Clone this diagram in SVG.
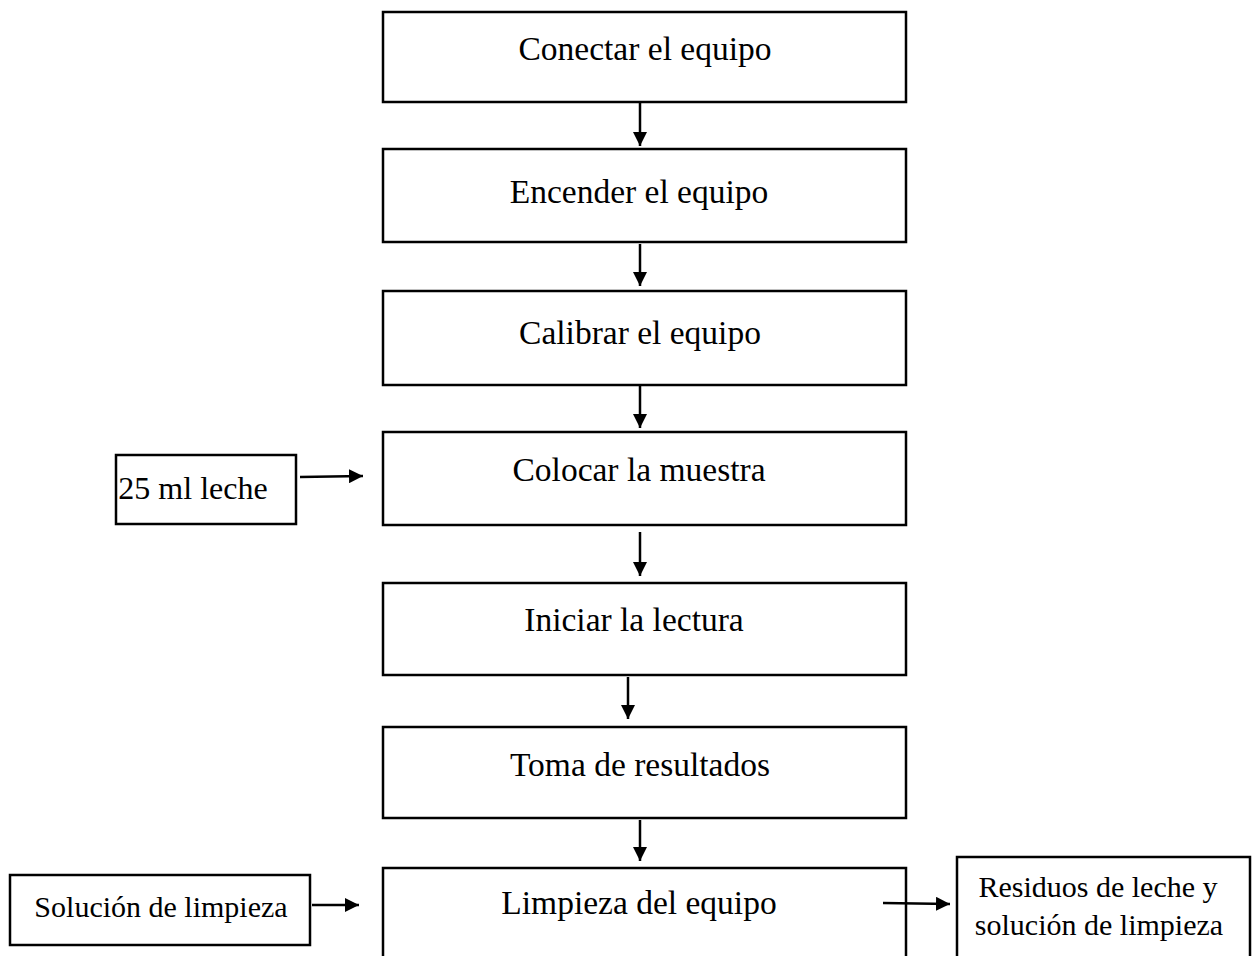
<svg xmlns="http://www.w3.org/2000/svg" width="1257" height="956" viewBox="0 0 1257 956">
<style>
  .box { fill: #ffffff; stroke: #000000; stroke-width: 2.5; }
  .lbl { font-family: "Liberation Serif", "Times New Roman", serif; font-size: 33.5px; fill: #000000; text-anchor: middle; }
  .sm { font-size: 30px; }
  .mid { font-size: 32px; }
  .conn line { stroke: #000000; stroke-width: 2.5; }
</style>
<defs>
  <marker id="ah" viewBox="0 0 10 10" refX="10" refY="5" markerWidth="5.8" markerHeight="5.6" markerUnits="strokeWidth" orient="auto">
    <path d="M0,0 L10,5 L0,10 z" fill="#000000"/>
  </marker>
</defs>
<rect width="1257" height="956" fill="#ffffff"/>
<g id="n1"><rect class="box" x="383" y="12" width="523" height="90"/><text class="lbl" x="645" y="60">Conectar el equipo</text></g>
<g id="n2"><rect class="box" x="383" y="149" width="523" height="93"/><text class="lbl" x="639" y="203">Encender el equipo</text></g>
<g id="n3"><rect class="box" x="383" y="291" width="523" height="94"/><text class="lbl" x="640" y="344">Calibrar el equipo</text></g>
<g id="n4"><rect class="box" x="383" y="432" width="523" height="93"/><text class="lbl" x="639" y="481">Colocar la muestra</text></g>
<g id="n4in"><rect class="box" x="116" y="455" width="180" height="69"/><text class="lbl mid" x="193" y="499">25 ml leche</text></g>
<g id="n5"><rect class="box" x="383" y="583" width="523" height="92"/><text class="lbl" x="634" y="631">Iniciar la lectura</text></g>
<g id="n6"><rect class="box" x="383" y="727" width="523" height="91"/><text class="lbl" x="640" y="776">Toma de resultados</text></g>
<g id="n7"><rect class="box" x="383" y="868" width="523" height="100"/><text class="lbl" x="639" y="914">Limpieza del equipo</text></g>
<g id="n7in"><rect class="box" x="10" y="875" width="300" height="70"/><text class="lbl sm" x="161" y="917">Solución de limpieza</text></g>
<g id="n7out"><rect class="box" x="957" y="857" width="293" height="110"/><text class="lbl sm" x="1098" y="897">Residuos de leche y</text><text class="lbl sm" x="1099" y="935">solución de limpieza</text></g>
<g id="connectors" class="conn">
  <line x1="640" y1="103" x2="640" y2="146" marker-end="url(#ah)"/>
  <line x1="640" y1="244" x2="640" y2="286" marker-end="url(#ah)"/>
  <line x1="640" y1="386" x2="640" y2="428" marker-end="url(#ah)"/>
  <line x1="640" y1="532" x2="640" y2="576" marker-end="url(#ah)"/>
  <line x1="628" y1="677" x2="628" y2="719" marker-end="url(#ah)"/>
  <line x1="640" y1="820" x2="640" y2="861" marker-end="url(#ah)"/>
  <line x1="300" y1="477" x2="363" y2="476" marker-end="url(#ah)"/>
  <line x1="312" y1="905" x2="359" y2="905" marker-end="url(#ah)"/>
  <line x1="883" y1="903" x2="950" y2="904" marker-end="url(#ah)"/>
</g>
</svg>
